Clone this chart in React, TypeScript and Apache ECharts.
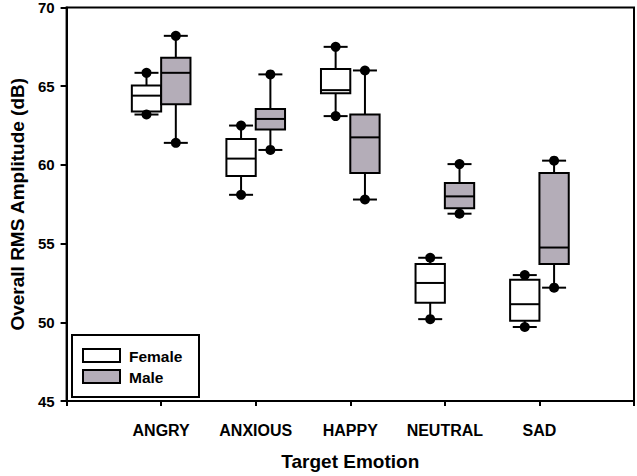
import React, { useEffect, useRef } from "react";
import * as echarts from "echarts";

const categories = ["ANGRY", "ANXIOUS", "HAPPY", "NEUTRAL", "SAD"];
const femaleMin = [63.2, 58.1, 63.1, 50.2, 49.7];
const femaleQ1 = [63.4, 59.3, 64.55, 51.25, 50.1];
const femaleMedian = [64.4, 60.4, 64.75, 52.5, 51.15];
const femaleQ3 = [65.05, 61.65, 66.1, 53.7, 52.7];
const femaleMax = [65.85, 62.5, 67.5, 54.1, 53.0];
const maleMin = [61.4, 60.95, 57.8, 56.9, 52.2];
const maleQ1 = [63.85, 62.25, 59.48, 57.25, 53.7];
const maleMedian = [65.85, 62.92, 61.75, 58.0, 54.75];
const maleQ3 = [66.8, 63.55, 63.2, 58.85, 59.48];
const maleMax = [68.2, 65.75, 66.0, 60.05, 60.27];
const yTicks = [45, 50, 55, 60, 65, 70];

const FONT = "'Liberation Sans', Arial, sans-serif";
const MALE_FILL = "#b4adb8";

function buildData(mins: number[], q1: number[], med: number[], q3: number[], maxs: number[]) {
  return categories.map((_, i) => [i + 1, mins[i], q1[i], med[i], q3[i], maxs[i]]);
}

function makeRender(offset: number, fill: string) {
  return (params: any, api: any) => {
    const x = api.value(0);
    const unit = api.size([1, 0])[0];
    const cx = api.coord([x, 0])[0] + offset * unit;
    const boxW = 0.31 * unit;
    const capW = 24;
    const y = (v: number) => api.coord([x, v])[1];
    const yMin = y(api.value(1));
    const yQ1 = y(api.value(2));
    const yMed = y(api.value(3));
    const yQ3 = y(api.value(4));
    const yMax = y(api.value(5));
    const stroke = { stroke: "#000", lineWidth: 2 };
    return {
      type: "group",
      children: [
        { type: "line", shape: { x1: cx, y1: yMax, x2: cx, y2: yQ3 }, style: stroke },
        { type: "line", shape: { x1: cx, y1: yQ1, x2: cx, y2: yMin }, style: stroke },
        {
          type: "rect",
          shape: { x: cx - boxW / 2, y: yQ3, width: boxW, height: yQ1 - yQ3 },
          style: { fill, stroke: "#000", lineWidth: 2 },
        },
        { type: "line", shape: { x1: cx - boxW / 2, y1: yMed, x2: cx + boxW / 2, y2: yMed }, style: stroke },
        { type: "line", shape: { x1: cx - capW / 2, y1: yMax, x2: cx + capW / 2, y2: yMax }, style: stroke },
        { type: "line", shape: { x1: cx - capW / 2, y1: yMin, x2: cx + capW / 2, y2: yMin }, style: stroke },
        { type: "circle", shape: { cx, cy: yMax, r: 5 }, style: { fill: "#000" } },
        { type: "circle", shape: { cx, cy: yMin, r: 5 }, style: { fill: "#000" } },
      ],
    };
  };
}

export default function App() {
  const ref = useRef<HTMLDivElement>(null);
  useEffect(() => {
    document.body.style.margin = "0";
    const chart = echarts.init(ref.current!, null, { renderer: "svg" });
    const option: any = {
      animation: false,
      grid: {
        left: 62,
        right: 3,
        top: 5,
        bottom: 71,
        show: true,
        borderColor: "#000",
        borderWidth: 2,
        backgroundColor: "transparent",
      },
      xAxis: {
        type: "value",
        min: 0,
        max: 6,
        interval: 1,
        name: "Target Emotion",
        nameLocation: "middle",
        nameGap: 51,
        nameTextStyle: { fontFamily: FONT, fontWeight: "bold", fontSize: 19, color: "#000" },
        axisLine: { show: true, lineStyle: { color: "#000", width: 2 } },
        axisTick: { show: true, inside: false, length: 5, lineStyle: { color: "#000", width: 2 } },
        splitLine: { show: false },
        axisLabel: {
          margin: 21,
          fontFamily: FONT,
          fontWeight: "bold",
          fontSize: 16,
          color: "#000",
          formatter: (v: number) => (v >= 1 && v <= categories.length ? categories[v - 1] : ""),
        },
      },
      yAxis: {
        type: "value",
        min: yTicks[0],
        max: yTicks[yTicks.length - 1],
        interval: 5,
        name: "Overall RMS Amplitude (dB)",
        nameLocation: "middle",
        nameGap: 38,
        nameTextStyle: { fontFamily: FONT, fontWeight: "bold", fontSize: 19, color: "#000" },
        axisLine: { show: true, lineStyle: { color: "#000", width: 2 } },
        axisTick: { show: true, inside: false, length: 6, lineStyle: { color: "#000", width: 2 } },
        splitLine: { show: false },
        axisLabel: { margin: 12, fontFamily: FONT, fontWeight: "bold", fontSize: 15, color: "#000" },
      },
      series: [
        {
          name: "Female",
          type: "custom",
          renderItem: makeRender(-0.155, "#ffffff"),
          data: buildData(femaleMin, femaleQ1, femaleMedian, femaleQ3, femaleMax),
          encode: { x: 0, y: [1, 2, 3, 4, 5] },
        },
        {
          name: "Male",
          type: "custom",
          renderItem: makeRender(0.155, MALE_FILL),
          data: buildData(maleMin, maleQ1, maleMedian, maleQ3, maleMax),
          encode: { x: 0, y: [1, 2, 3, 4, 5] },
        },
      ],
      graphic: [
        {
          type: "rect",
          shape: { x: 72, y: 335, width: 127, height: 62 },
          style: { fill: "#fff", stroke: "#000", lineWidth: 2 },
        },
        {
          type: "rect",
          shape: { x: 83, y: 349, width: 37, height: 13 },
          style: { fill: "#fff", stroke: "#000", lineWidth: 2 },
        },
        {
          type: "rect",
          shape: { x: 83, y: 370, width: 37, height: 13 },
          style: { fill: MALE_FILL, stroke: "#000", lineWidth: 2 },
        },
        {
          type: "text",
          x: 129,
          y: 356,
          style: { text: "Female", fontFamily: FONT, fontWeight: "bold", fontSize: 15.5, fill: "#000", verticalAlign: "middle" },
        },
        {
          type: "text",
          x: 129,
          y: 377,
          style: { text: "Male", fontFamily: FONT, fontWeight: "bold", fontSize: 15.5, fill: "#000", verticalAlign: "middle" },
        },
      ],
    };
    chart.setOption(option);
    return () => chart.dispose();
  }, []);
  return <div ref={ref} style={{ width: 637, height: 476 }} />;
}
